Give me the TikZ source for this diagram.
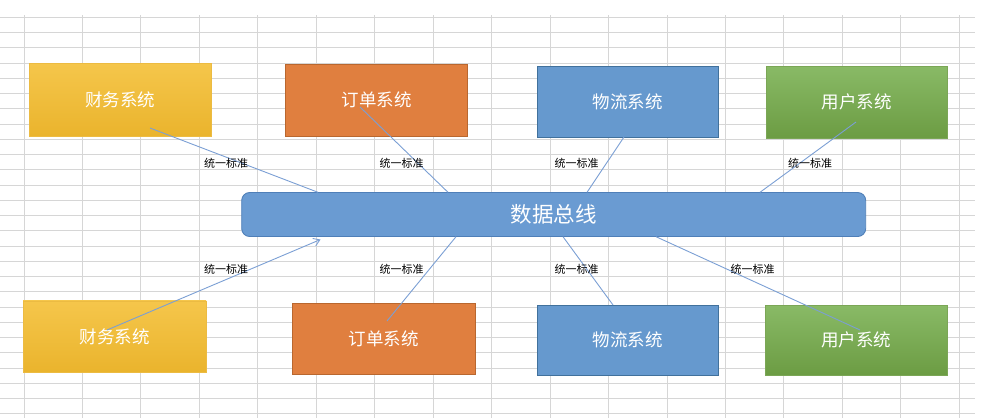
\documentclass[tikz,border=0pt]{standalone}
\usepackage{fontspec}
\newfontfamily\cjk{Noto Sans CJK SC}
\usetikzlibrary{arrows.meta}
\definecolor{gridc}{HTML}{D6D6D6}
\definecolor{yelT}{HTML}{F5C64B}
\definecolor{yelB}{HTML}{EAB42D}
\definecolor{orgF}{HTML}{E07F3F}
\definecolor{orgD}{HTML}{B9672F}
\definecolor{bluF}{HTML}{6699CE}
\definecolor{bluD}{HTML}{41719C}
\definecolor{grnT}{HTML}{89BA66}
\definecolor{grnB}{HTML}{6C9C43}
\definecolor{busF}{HTML}{6A9BD2}
\definecolor{busD}{HTML}{4F7FB8}
\definecolor{linkc}{HTML}{7B9FD4}
\tikzset{
  sysbox/.style={minimum width=182pt, minimum height=72pt, inner sep=0pt,
    font=\cjk\fontsize{17.5}{19}\selectfont, text=white},
  yelbox/.style={sysbox, top color=yelT, bottom color=yelB, draw=yelB!90!white, line width=0.4pt},
  orgbox/.style={sysbox, fill=orgF, draw=orgD, line width=0.9pt},
  blubox/.style={sysbox, fill=bluF, draw=bluD, line width=0.9pt},
  grnbox/.style={sysbox, top color=grnT, bottom color=grnB, draw=grnB!90!white, line width=0.4pt},
  busbox/.style={minimum width=624pt, minimum height=44pt, inner sep=0pt, rounded corners=8pt,
    fill=busF, draw=busD, line width=0.9pt, font=\cjk\fontsize{21.5}{23}\selectfont, text=white},
  link/.style={draw=linkc, line width=0.9pt},
  lbl/.style={font=\cjk\fontsize{11}{12}\selectfont, text=black, inner sep=0pt}
}
\begin{document}
\begin{tikzpicture}[x=1pt,y=-1pt]
\useasboundingbox (0,0) rectangle (1000,418);
% spreadsheet grid
\foreach \i in {0,...,16}{
  \draw[gridc, line width=0.9pt] ({24+58.45*\i},15) -- ({24+58.45*\i},418);
}
\foreach \j in {0,...,26}{
  \draw[gridc, line width=0.9pt] (0,{17.3+15.25*\j}) -- (975,{17.3+15.25*\j});
}
% bus
\node[busbox] (bus) at (553.7,214.5) {数据总线};
% top row
\node[yelbox, minimum height=73pt] (f1) at (120,99.5) {财务系统};
\node[orgbox] (o1) at (376.5,100) {订单系统};
\node[blubox, minimum width=181pt, minimum height=71pt] (w1) at (627.5,101.5) {物流系统};
\node[grnbox, minimum width=181pt] (u1) at (856.5,102) {用户系统};
% bottom row
\node[yelbox, minimum width=183pt, minimum height=71pt] (f2) at (114.5,336.3) {财务系统};
\node[orgbox, minimum width=183pt, minimum height=71pt] (o2) at (383.5,338.5) {订单系统};
\node[blubox, minimum width=181pt, minimum height=70pt] (w2) at (627.5,340) {物流系统};
\node[grnbox, minimum width=182pt, minimum height=70pt] (u2) at (856,340) {用户系统};
% connector end points
\coordinate (f1s) at (150,128);   \coordinate (bf1) at (318,192.3);
\coordinate (o1s) at (360,107);   \coordinate (bo1) at (448,192.3);
\coordinate (w1s) at (624,137);   \coordinate (bw1) at (587,192.3);
\coordinate (u1s) at (856,122);   \coordinate (bu1) at (760,192.3);
\coordinate (f2s) at (107,330);   \coordinate (bf2) at (320.5,239.5);
\coordinate (o2s) at (387,321);   \coordinate (bo2) at (456,236.7);
\coordinate (w2s) at (613,305);   \coordinate (bw2) at (563,236.7);
\coordinate (u2s) at (860,330);   \coordinate (bu2) at (656,236.7);
% connectors
\draw[link] (f1s) -- (bf1);
\draw[link] (o1s) -- (bo1);
\draw[link] (w1s) -- (bw1);
\draw[link] (u1s) -- (bu1);
\draw[link, -{Straight Barb[length=6pt,width=8pt]}] (f2s) -- (bf2);
\draw[link] (o2s) -- (bo2);
\draw[link] (w2s) -- (bw2);
\draw[link] (u2s) -- (bu2);
% labels
\node[lbl] (l1) at (226,163.3) {统一标准};
\node[lbl] (l2) at (401.7,163.3) {统一标准};
\node[lbl] (l3) at (576.7,163.3) {统一标准};
\node[lbl] (l4) at (810,163.3) {统一标准};
\node[lbl] (l5) at (226,269.7) {统一标准};
\node[lbl] (l6) at (401.7,269.7) {统一标准};
\node[lbl] (l7) at (576.7,269.7) {统一标准};
\node[lbl] (l8) at (752.7,269.7) {统一标准};
\end{tikzpicture}
\end{document}
